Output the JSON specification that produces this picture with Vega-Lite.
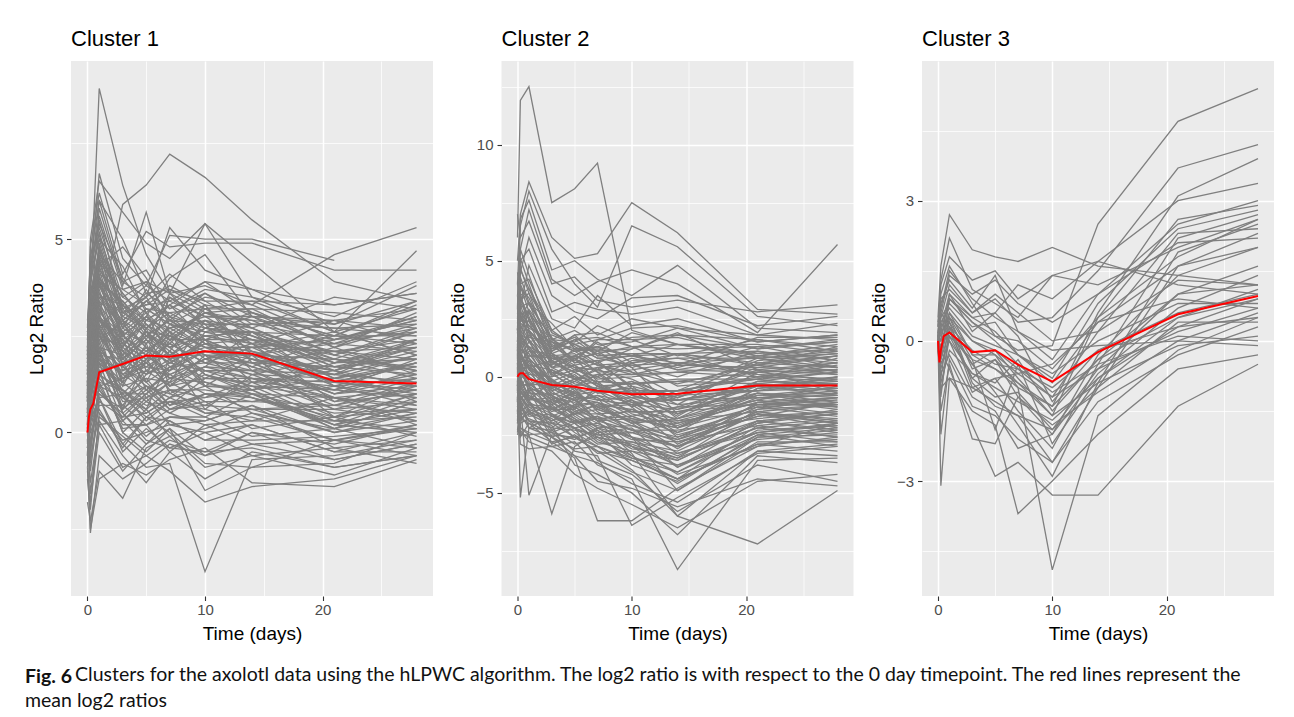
{
  "$schema": "https://vega.github.io/schema/vega-lite/v6.json",
  "autosize": {"type": "pad"},
  "padding": {"left": 25, "top": 28, "right": 0, "bottom": 0},
  "background": "#FFFFFF",
  "bounds": "flush",
  "title": {
    "text": "Clusters for the axolotl data using the hLPWC algorithm. The log2 ratio is with respect to the 0 day timepoint. The red lines represent the",
    "orient": "bottom",
    "anchor": "start",
    "frame": "group",
    "dx": 4,
    "dy": -45,
    "offset": 0,
    "font": "Lato",
    "fontSize": 19.5,
    "fontWeight": "normal",
    "color": "#111111"
  },
  "vconcat": [
    {
      "bounds": "flush",
      "spacing": 68.5,
      "title": {
        "text": "Fig. 6",
        "subtitle": "mean log2 ratios",
        "orient": "bottom",
        "anchor": "start",
        "frame": "group",
        "dx": -46,
        "offset": 24,
        "font": "Lato",
        "fontSize": 19.5,
        "fontWeight": "bold",
        "color": "#111111",
        "subtitleFont": "Lato",
        "subtitleFontSize": 19.5,
        "subtitleFontWeight": "normal",
        "subtitleColor": "#111111",
        "subtitlePadding": 5
      },
      "hconcat": [
        {
          "width": 362,
          "height": 535,
          "title": {"text": "Cluster 1", "offset": 10},
          "layer": [
            {
              "data": {"values": "g,t,v\n1,0,1\n1,0.25,3.5\n1,1,8.9\n1,3,6.4\n1,5,4.6\n1,7,3.6\n1,10,3.1\n1,14,2.6\n1,21,2.1\n1,28,2.2\n2,0,0.5\n2,0.25,1.2\n2,1,3\n2,3,5.9\n2,5,6.4\n2,7,7.2\n2,10,6.6\n2,14,5.5\n2,21,3.9\n2,28,3.4\n3,0,1.5\n3,0.25,4\n3,1,6.7\n3,3,4.5\n3,5,3.8\n3,7,5.1\n3,10,5\n3,14,5\n3,21,4.45\n4,0,0.8\n4,0.25,2.5\n4,1,4.2\n4,3,3.5\n4,5,3.9\n4,7,3.6\n4,10,3.8\n4,14,3.3\n4,21,4.6\n4,28,5.3\n5,0,1.2\n5,0.25,5\n5,1,6.5\n5,3,5.7\n5,5,4.9\n5,7,4.5\n5,10,5.4\n5,14,4.4\n5,21,2.6\n5,28,4.7\n6,0,2\n6,0.25,4.8\n6,1,6.2\n6,3,4.1\n6,5,5.2\n6,7,4.8\n6,10,4.9\n6,14,4.9\n6,21,4.2\n6,28,4.2\n7,0,0.5\n7,0.25,3\n7,1,5.8\n7,3,3.8\n7,5,5.7\n7,7,3.6\n7,10,5.4\n7,14,3.5\n7,21,3\n7,28,3.9\n8,0,1.8\n8,0.25,4.3\n8,1,5.5\n8,3,3.2\n8,5,3.5\n8,7,5.3\n8,10,4.2\n8,14,3.7\n8,21,3.3\n8,28,3.6\n9,0,0.2\n9,0.25,2\n9,1,4.5\n9,3,2.5\n9,5,3\n9,7,4\n9,10,4.6\n9,14,3\n9,21,2.8\n9,28,3.8\n10,0,2.5\n10,0.25,4.5\n10,1,6\n10,3,5\n10,5,3.6\n10,7,3.7\n10,10,3.4\n10,14,2.7\n10,21,3.5\n10,28,3.2\n11,0,1\n11,0.25,3.8\n11,1,5.2\n11,3,3\n11,5,2.7\n11,7,3.3\n11,10,3.9\n11,14,3.1\n11,21,2.5\n11,28,3.4\n12,0,0\n12,0.25,1.5\n12,1,4\n12,3,2.8\n12,5,3.4\n12,7,2.9\n12,10,3.6\n12,14,2.8\n12,21,2.4\n12,28,2.9\n13,0,1.6\n13,0.25,3\n13,1,4.8\n13,3,2.2\n13,5,3.2\n13,7,3.1\n13,10,3.2\n13,14,2.5\n13,21,1.9\n13,28,2.6\n14,0,0.4\n14,0.25,2.2\n14,1,3.5\n14,3,3.3\n14,5,2.6\n14,7,2.5\n14,10,3.1\n14,14,3.2\n14,21,2.2\n14,28,3.1\n15,0,2.2\n15,0.25,3.6\n15,1,4.4\n15,3,3.6\n15,5,2.9\n15,7,2.7\n15,10,2.9\n15,14,2.1\n15,21,1.6\n15,28,2.4\n16,0,0.9\n16,0.25,2.8\n16,1,3.8\n16,3,2.6\n16,5,2.3\n16,7,3\n16,10,2.7\n16,14,2.4\n16,21,2\n16,28,2.7\n17,0,-0.3\n17,0.25,1.8\n17,1,3.2\n17,3,2\n17,5,2.5\n17,7,2.2\n17,10,2.5\n17,14,2.6\n17,21,1.8\n17,28,2.2\n18,0,1.3\n18,0.25,2.4\n18,1,2.9\n18,3,2.4\n18,5,2.8\n18,7,2.4\n18,10,2.4\n18,14,1.9\n18,21,1.5\n18,28,2\n19,0,0.6\n19,0.25,1.9\n19,1,2.7\n19,3,1.8\n19,5,2.1\n19,7,2.6\n19,10,2.2\n19,14,2.2\n19,21,1.3\n19,28,1.8\n20,0,2.8\n20,0.25,3.2\n20,1,3.6\n20,3,2.9\n20,5,2.2\n20,7,1.9\n20,10,2.3\n20,14,2\n20,21,2.5\n20,28,2.5\n21,0,0.1\n21,0.25,1\n21,1,2.4\n21,3,2.3\n21,5,1.9\n21,7,2\n21,10,2\n21,14,1.7\n21,21,1.1\n21,28,1.5\n22,0,1.7\n22,0.25,2.6\n22,1,3.3\n22,3,1.6\n22,5,1.8\n22,7,2.3\n22,10,1.8\n22,14,1.5\n22,21,1.4\n22,28,1.7\n23,0,-0.6\n23,0.25,0.8\n23,1,2\n23,3,1.9\n23,5,2.4\n23,7,1.7\n23,10,2.1\n23,14,1.8\n23,21,1\n23,28,1.2\n24,0,0.9\n24,0.25,1.5\n24,1,2.2\n24,3,1.4\n24,5,1.6\n24,7,1.5\n24,10,1.9\n24,14,2.3\n24,21,0.8\n24,28,1\n25,0,2.4\n25,0.25,2\n25,1,2.6\n25,3,2.1\n25,5,1.5\n25,7,1.8\n25,10,1.6\n25,14,1.4\n25,21,1.2\n25,28,1.4\n26,0,0.3\n26,0.25,0.5\n26,1,1.8\n26,3,1.2\n26,5,1.4\n26,7,1.3\n26,10,1.7\n26,14,1.6\n26,21,0.6\n26,28,0.8\n27,0,1.1\n27,0.25,1.3\n27,1,2.5\n27,3,1.7\n27,5,1.2\n27,7,1\n27,10,1.5\n27,14,1.2\n27,21,0.9\n27,28,1.1\n28,0,-0.2\n28,0.25,0.2\n28,1,1.5\n28,3,1\n28,5,1\n28,7,1.4\n28,10,1.3\n28,14,1\n28,21,0.5\n28,28,0.6\n29,0,1.4\n29,0.25,1.8\n29,1,1.9\n29,3,0.8\n29,5,0.9\n29,7,1.1\n29,10,1.1\n29,14,0.9\n29,21,0.3\n29,28,0.4\n30,0,0.7\n30,0.25,0.6\n30,1,1.3\n30,3,1.1\n30,5,0.7\n30,7,0.8\n30,10,0.9\n30,14,1.1\n30,21,0.2\n30,28,0.9\n31,0,-0.8\n31,0.25,-0.3\n31,1,1\n31,3,0.6\n31,5,1.1\n31,7,0.6\n31,10,0.7\n31,14,0.6\n31,21,0\n31,28,0.3\n32,0,0\n32,0.25,-1\n32,1,0.8\n32,3,0.4\n32,5,0.5\n32,7,0.9\n32,10,0.5\n32,14,0.4\n32,21,-0.2\n32,28,0.1\n33,0,1\n33,0.25,-0.5\n33,1,1.2\n33,3,0.2\n33,5,0.2\n33,7,0.4\n33,10,0.3\n33,14,0.7\n33,21,-0.4\n33,28,-0.2\n34,0,-1.2\n34,0.25,-2\n34,1,0.5\n34,3,-0.2\n34,5,0\n34,7,0.2\n34,10,0\n34,14,0.2\n34,21,-0.5\n34,28,-0.5\n35,0,-0.5\n35,0.25,-2.6\n35,1,-0.6\n35,3,-1.2\n35,5,-0.8\n35,7,-0.3\n35,10,-0.6\n35,14,-0.3\n35,21,-0.7\n35,28,-0.3\n36,0,0.3\n36,0.25,-1.6\n36,1,0.3\n36,3,-0.6\n36,5,-1.3\n36,7,-0.5\n36,10,-1.2\n36,14,-0.5\n36,21,-0.9\n36,28,-0.6\n37,0,-1.8\n37,0.25,-2.3\n37,1,-1\n37,3,-1.7\n37,5,-0.4\n37,7,-0.1\n37,10,-0.9\n37,14,-0.6\n37,21,-1.1\n37,28,-0.4\n38,0,0.6\n38,0.25,-0.8\n38,1,0.9\n38,3,-0.3\n38,5,-0.9\n38,7,-0.8\n38,10,-3.6\n38,14,-0.7\n38,21,-0.6\n38,28,-0.2\n39,0,-0.2\n39,0.25,-1.3\n39,1,0.2\n39,3,-0.9\n39,5,-0.6\n39,7,-1\n39,10,-1.8\n39,14,-1.4\n39,21,-1.2\n39,28,-0.6\n40,0,1.2\n40,0.25,0.3\n40,1,1.6\n40,3,0\n40,5,-0.5\n40,7,0.1\n40,10,-1.5\n40,14,-0.9\n40,21,-0.8\n40,28,0\n41,0,0.5\n41,0.25,0.9\n41,1,2.1\n41,3,0.5\n41,5,-0.2\n41,7,-0.4\n41,10,-0.5\n41,14,0\n41,21,-0.3\n41,28,0.2\n42,0,2.1\n42,0.25,2.9\n42,1,4\n42,3,3.1\n42,5,3.3\n42,7,3.4\n42,10,3\n42,14,2.9\n42,21,2.7\n42,28,2.8\n43,0,1.9\n43,0.25,3.4\n43,1,4.6\n43,3,3.9\n43,5,4.2\n43,7,3.2\n43,10,3.6\n43,14,3\n43,21,2.3\n43,28,3\n44,0,0.8\n44,0.25,2.6\n44,1,3.9\n44,3,2.7\n44,5,3.7\n44,7,2.8\n44,10,2.6\n44,14,2.3\n44,21,2.9\n44,28,2.3\n45,0,1.5\n45,0.25,2.2\n45,1,3.1\n45,3,2.5\n45,5,2\n45,7,3.5\n45,10,2.8\n45,14,2.5\n45,21,1.7\n45,28,1.9\n46,0,2.6\n46,0.25,3\n46,1,2.8\n46,3,1.9\n46,5,2.6\n46,7,2.1\n46,10,3.3\n46,14,1.8\n46,21,2.1\n46,28,1.6\n47,0,0.2\n47,0.25,1.6\n47,1,2.6\n47,3,1.5\n47,5,1.7\n47,7,1.6\n47,10,2.4\n47,14,1.3\n47,21,1.6\n47,28,2.1\n48,0,1\n48,0.25,1.1\n48,1,1.7\n48,3,1.3\n48,5,2.7\n48,7,1.2\n48,10,1.4\n48,14,2\n48,21,0.4\n48,28,1.3\n49,0,-0.4\n49,0.25,0.4\n49,1,1.4\n49,3,2.6\n49,5,1.3\n49,7,0.7\n49,10,1\n49,14,0.8\n49,21,1.2\n49,28,0.7\n50,0,1.6\n50,0.25,2\n50,1,2.3\n50,3,0.9\n50,5,0.6\n50,7,1.9\n50,10,0.6\n50,14,1.5\n50,21,1.9\n50,28,1.6\n51,0,0.4\n51,0.25,1.4\n51,1,3\n51,3,2.2\n51,5,1.8\n51,7,2.6\n51,10,1.2\n51,14,0.5\n51,21,0.1\n51,28,0.5\n52,0,2.3\n52,0.25,3.9\n52,1,5\n52,3,4.3\n52,5,3.1\n52,7,2.5\n52,10,2.1\n52,14,2\n52,21,1.3\n52,28,1.8\n53,0,-1\n53,0.25,-1.8\n53,1,0\n53,3,-1\n53,5,-0.3\n53,7,0.3\n53,10,-0.2\n53,14,-0.2\n53,21,-0.1\n53,28,0.1\n54,0,0.9\n54,0.25,2.1\n54,1,4.3\n54,3,4.8\n54,5,4\n54,7,2.9\n54,10,2.3\n54,14,1.7\n54,21,1\n54,28,1.4\n55,0,1.3\n55,0.25,0.7\n55,1,1.1\n55,3,0.3\n55,5,0.8\n55,7,0.5\n55,10,0.2\n55,14,0.3\n55,21,0.9\n55,28,0.3\n56,0,-0.9\n56,0.25,-2.5\n56,1,-1.2\n56,3,-0.8\n56,5,-1.1\n56,7,-0.7\n56,10,-0.4\n56,14,-1.3\n56,21,-1.4\n56,28,-0.7\n57,0,0.1\n57,0.25,0\n57,1,0.6\n57,3,-0.4\n57,5,0.4\n57,7,0\n57,10,-0.8\n57,14,-0.9\n57,21,-0.2\n57,28,-0.4\n58,0,0.2\n58,0.25,-0.6\n58,1,0.4\n58,3,-0.1\n58,5,-0.6\n58,7,-0.2\n58,10,-0.5\n58,14,-0.4\n58,21,-0.9\n58,28,-0.6\n59,0,-0.5\n59,0.25,0.3\n59,1,0.9\n59,3,-0.5\n59,5,0.1\n59,7,-0.4\n59,10,0\n59,14,-0.6\n59,21,-0.4\n59,28,-0.8\n60,0,1.1\n60,0.25,0.4\n60,1,0.2\n60,3,0.3\n60,5,-0.3\n60,7,0.1\n60,10,-0.6\n60,14,0\n60,21,-0.7\n60,28,-0.3\n61,0,-0.3\n61,0.25,-0.5\n61,1,1.3\n61,3,0.1\n61,5,0.2\n61,7,-0.5\n61,10,0.2\n61,14,-0.3\n61,21,-0.2\n61,28,-0.6\n62,0,0.6\n62,0.25,0.9\n62,1,0.5\n62,3,-0.3\n62,5,0.4\n62,7,0.3\n62,10,-0.2\n62,14,0.2\n62,21,-0.5\n62,28,0\n63,0,-0.8\n63,0.25,0.1\n63,1,1\n63,3,0.5\n63,5,-0.1\n63,7,0.4\n63,10,0.4\n63,14,-0.1\n63,21,0.1\n63,28,-0.4\n64,0,1.5\n64,0.25,1.2\n64,1,1.6\n64,3,0\n64,5,0.6\n64,7,-0.1\n64,10,0.1\n64,14,0.5\n64,21,-0.2\n64,28,0.2\n65,0,0\n65,0.25,-0.2\n65,1,0.7\n65,3,0.7\n65,5,0.2\n65,7,0.6\n65,10,0.8\n65,14,0.1\n65,21,0.4\n65,28,-0.1\n66,0,0.9\n66,0.25,0.6\n66,1,1.8\n66,3,0.3\n66,5,0.9\n66,7,0.2\n66,10,0.3\n66,14,0.7\n66,21,0\n66,28,0.5\n67,0,-0.4\n67,0.25,1\n67,1,1.2\n67,3,0.9\n67,5,0.4\n67,7,0.8\n67,10,0.6\n67,14,0.3\n67,21,0.3\n67,28,0.1\n68,0,2\n68,0.25,1.6\n68,1,2.2\n68,3,0.5\n68,5,1\n68,7,0.5\n68,10,1\n68,14,0.9\n68,21,0.2\n68,28,0.6\n69,0,0.3\n69,0.25,0.5\n69,1,1.5\n69,3,1.1\n69,5,0.6\n69,7,1.1\n69,10,0.5\n69,14,0.6\n69,21,0.6\n69,28,0.3\n70,0,1.2\n70,0.25,1.8\n70,1,2.6\n70,3,0.6\n70,5,1.2\n70,7,0.9\n70,10,1.2\n70,14,1.1\n70,21,0.1\n70,28,0.8\n71,0,-0.1\n71,0.25,1.1\n71,1,1.9\n71,3,1.3\n71,5,0.8\n71,7,1.3\n71,10,0.8\n71,14,0.8\n71,21,0.7\n71,28,0.5\n72,0,1.8\n72,0.25,2.3\n72,1,2.4\n72,3,0.9\n72,5,1.4\n72,7,0.7\n72,10,1.4\n72,14,1.3\n72,21,0.4\n72,28,1\n73,0,0.5\n73,0.25,0.8\n73,1,2\n73,3,1.5\n73,5,1.1\n73,7,1.5\n73,10,1\n73,14,1\n73,21,0.9\n73,28,0.7\n74,0,2.3\n74,0.25,1.9\n74,1,3\n74,3,1\n74,5,1.6\n74,7,1.2\n74,10,1.7\n74,14,1.4\n74,21,0.6\n74,28,1.2\n75,0,0.8\n75,0.25,2.6\n75,1,2.1\n75,3,1.7\n75,5,1.3\n75,7,1.7\n75,10,1.2\n75,14,1.2\n75,21,1.1\n75,28,0.9\n76,0,1.4\n76,0.25,1.2\n76,1,2.8\n76,3,1.3\n76,5,1.8\n76,7,1.4\n76,10,1.9\n76,14,1.6\n76,21,0.8\n76,28,1.4\n77,0,0.1\n77,0.25,2.2\n77,1,3.4\n77,3,1.9\n77,5,1.5\n77,7,1.9\n77,10,1.4\n77,14,1.4\n77,21,1.3\n77,28,1.1\n78,0,2.6\n78,0.25,2.9\n78,1,2.5\n78,3,1.5\n78,5,2\n78,7,1.6\n78,10,2.1\n78,14,1.9\n78,21,1\n78,28,1.6\n79,0,1\n79,0.25,1.7\n79,1,3.2\n79,3,2.1\n79,5,1.7\n79,7,2.1\n79,10,1.6\n79,14,1.6\n79,21,1.5\n79,28,1.3\n80,0,1.9\n80,0.25,3.3\n80,1,3.7\n80,3,1.7\n80,5,2.2\n80,7,1.8\n80,10,2.3\n80,14,2.1\n80,21,1.2\n80,28,1.8\n81,0,0.4\n81,0.25,2\n81,1,2.9\n81,3,2.3\n81,5,1.9\n81,7,2.3\n81,10,1.8\n81,14,1.8\n81,21,1.7\n81,28,1.5\n82,0,2.2\n82,0.25,2.7\n82,1,4.1\n82,3,1.9\n82,5,2.4\n82,7,2\n82,10,2.5\n82,14,2.3\n82,21,1.4\n82,28,2\n83,0,1.3\n83,0.25,3.5\n83,1,3.3\n83,3,2.5\n83,5,2.1\n83,7,2.5\n83,10,2\n83,14,2\n83,21,1.9\n83,28,1.7\n84,0,0.7\n84,0.25,2.4\n84,1,3.9\n84,3,2.1\n84,5,2.6\n84,7,2.2\n84,10,2.7\n84,14,2.5\n84,21,1.6\n84,28,2.2\n85,0,2.5\n85,0.25,3\n85,1,4.3\n85,3,2.7\n85,5,2.3\n85,7,2.7\n85,10,2.2\n85,14,2.2\n85,21,2.1\n85,28,1.9\n86,0,1.6\n86,0.25,3.8\n86,1,3.6\n86,3,2.3\n86,5,2.8\n86,7,2.4\n86,10,2.9\n86,14,2.7\n86,21,1.8\n86,28,2.4\n87,0,0.9\n87,0.25,2.5\n87,1,4.6\n87,3,2.9\n87,5,2.5\n87,7,2.9\n87,10,2.4\n87,14,2.4\n87,21,2.3\n87,28,2.1\n88,0,2\n88,0.25,3.4\n88,1,3.8\n88,3,2.5\n88,5,3\n88,7,2.6\n88,10,3.1\n88,14,2.9\n88,21,2\n88,28,2.6\n89,0,1.1\n89,0.25,4.1\n89,1,5\n89,3,3.1\n89,5,2.7\n89,7,3.1\n89,10,2.6\n89,14,2.6\n89,21,2.5\n89,28,2.3\n90,0,2.4\n90,0.25,3.1\n90,1,4.4\n90,3,2.7\n90,5,3.2\n90,7,2.8\n90,10,3.3\n90,14,3.1\n90,21,2.2\n90,28,2.8\n91,0,1.5\n91,0.25,3.7\n91,1,4\n91,3,3.3\n91,5,2.9\n91,7,3.3\n91,10,2.8\n91,14,2.8\n91,21,2.7\n91,28,2.5\n92,0,0.6\n92,0.25,2.8\n92,1,4.9\n92,3,2.9\n92,5,3.4\n92,7,3\n92,10,3.5\n92,14,3.3\n92,21,2.4\n92,28,3\n93,0,2.1\n93,0.25,4.4\n93,1,5.3\n93,3,3.5\n93,5,3.1\n93,7,3.5\n93,10,3\n93,14,3\n93,21,2.9\n93,28,2.7\n94,0,1.7\n94,0.25,3.6\n94,1,4.7\n94,3,3.1\n94,5,3.6\n94,7,3.2\n94,10,3.7\n94,14,3.5\n94,21,2.6\n94,28,3.2\n95,0,0.8\n95,0.25,4\n95,1,5.6\n95,3,3.7\n95,5,3.3\n95,7,3.7\n95,10,3.2\n95,14,3.2\n95,21,3.1\n95,28,2.9\n96,0,2.7\n96,0.25,4.6\n96,1,5.1\n96,3,3.3\n96,5,3.8\n96,7,3.4\n96,10,3.9\n96,14,3.7\n96,21,2.8\n96,28,3.4\n97,0,1.2\n97,0.25,3.9\n97,1,6\n97,3,3.9\n97,5,3.5\n97,7,4.1\n97,10,3.4\n97,14,3.4\n97,21,3.3\n97,28,3.6\n98,0,0.5\n98,0.25,1.9\n98,1,3.4\n98,3,2.8\n98,5,2.2\n98,7,1.4\n98,10,1.7\n98,14,2.6\n98,21,1.2\n98,28,0.9\n99,0,1.9\n99,0.25,2.4\n99,1,1.4\n99,3,0.7\n99,5,1.5\n99,7,2.5\n99,10,2\n99,14,1.1\n99,21,1.8\n99,28,2.3\n100,0,-0.6\n100,0.25,0.9\n100,1,2.7\n100,3,3.4\n100,5,2.6\n100,7,2\n100,10,1.3\n100,14,0.9\n100,21,0.4\n100,28,0.6\n101,0,2.2\n101,0.25,3.6\n101,1,4.2\n101,3,2.4\n101,5,1.1\n101,7,1.6\n101,10,2.9\n101,14,2.4\n101,21,1.4\n101,28,1.2\n102,0,0.8\n102,0.25,1.2\n102,1,2\n102,3,0.6\n102,5,1.9\n102,7,2.8\n102,10,2.2\n102,14,1.7\n102,21,2.4\n102,28,2.9\n103,0,1.4\n103,0.25,2.9\n103,1,3.8\n103,3,3\n103,5,3.5\n103,7,2.6\n103,10,1.9\n103,14,1.5\n103,21,0.7\n103,28,1.1\n104,0,-0.2\n104,0.25,0.6\n104,1,1.6\n104,3,1.8\n104,5,0.9\n104,7,1.3\n104,10,2.6\n104,14,3\n104,21,2\n104,28,1.6\n105,0,2.6\n105,0.25,3.2\n105,1,2.9\n105,3,2\n105,5,2.9\n105,7,3.3\n105,10,2.4\n105,14,2.8\n105,21,2.9\n105,28,3.2\n106,0,0.3\n106,0.25,2.3\n106,1,3.1\n106,3,1.2\n106,5,2.3\n106,7,1\n106,10,0.7\n106,14,1.3\n106,21,1.1\n106,28,1.9\n107,0,1.1\n107,0.25,1.6\n107,1,2.3\n107,3,2.9\n107,5,3.4\n107,7,3.8\n107,10,3.3\n107,14,2\n107,21,1.6\n107,28,0.8\n108,0,1.7\n108,0.25,3\n108,1,4.5\n108,3,3.6\n108,5,2.8\n108,7,2.2\n108,10,1.5\n108,14,1\n108,21,0.2\n108,28,0\n109,0,0\n109,0.25,0.8\n109,1,1.1\n109,3,0.4\n109,5,1\n109,7,1.7\n109,10,1.8\n109,14,2.2\n109,21,2.6\n109,28,2\n110,0,2\n110,0.25,2.8\n110,1,3.5\n110,3,2.5\n110,5,2\n110,7,1.5\n110,10,1.9\n110,14,2.1\n110,21,1.5\n110,28,2.4\n111,0,0.6\n111,0.25,1.5\n111,1,2.9\n111,3,2.2\n111,5,3\n111,7,2.4\n111,10,3.1\n111,14,2.7\n111,21,1.9\n111,28,1.4\n112,0,1.3\n112,0.25,2.2\n112,1,1.8\n112,3,1.1\n112,5,0.5\n112,7,0.9\n112,10,1.6\n112,14,1.2\n112,21,0.3\n112,28,1\n113,0,-0.9\n113,0.25,-0.2\n113,1,1.2\n113,3,1.4\n113,5,1.9\n113,7,1.1\n113,10,0.9\n113,14,1.4\n113,21,0.9\n113,28,0.2\n114,0,2.4\n114,0.25,4.2\n114,1,5.4\n114,3,4\n114,5,3.2\n114,7,2.8\n114,10,2.5\n114,14,2.2\n114,21,2.4\n114,28,2.6\n115,0,0.9\n115,0.25,2\n115,1,2.4\n115,3,2.9\n115,5,1.6\n115,7,2.1\n115,10,1.2\n115,14,1.9\n115,21,1.3\n115,28,1\n116,0,1.5\n116,0.25,2.7\n116,1,3.3\n116,3,1.8\n116,5,2.5\n116,7,2.9\n116,10,2.8\n116,14,1.6\n116,21,2.2\n116,28,1.5\n117,0,0.2\n117,0.25,1.3\n117,1,2.1\n117,3,0.9\n117,5,1.2\n117,7,0.6\n117,10,1\n117,14,0.6\n117,21,0.7\n117,28,1.3\n118,0,1.8\n118,0.25,3.5\n118,1,4.8\n118,3,3.2\n118,5,2.4\n118,7,3.6\n118,10,2.7\n118,14,2.6\n118,21,1.7\n118,28,2.2\n119,0,0.4\n119,0.25,0.9\n119,1,1.9\n119,3,1.6\n119,5,2.2\n119,7,1.8\n119,10,2.4\n119,14,1.9\n119,21,1.6\n119,28,1.2\n120,0,2.9\n120,0.25,3.7\n120,1,3.9\n120,3,3.4\n120,5,2.7\n120,7,2.3\n120,10,3.2\n120,14,3.4\n120,21,2.6\n120,28,2\n121,0,-0.4\n121,0.25,0.3\n121,1,0.9\n121,3,1\n121,5,0.3\n121,7,0.8\n121,10,0.4\n121,14,1\n121,21,0.1\n121,28,0.8\n122,0,1\n122,0.25,2.5\n122,1,3.6\n122,3,2.6\n122,5,3.1\n122,7,1.9\n122,10,2.2\n122,14,2\n122,21,2.3\n122,28,2.7\n123,0,2.1\n123,0.25,3.3\n123,1,4.1\n123,3,3.7\n123,5,3.9\n123,7,3\n123,10,2.3\n123,14,2.4\n123,21,1.8\n123,28,1.9\n124,0,0.7\n124,0.25,1\n124,1,2.2\n124,3,2\n124,5,1.3\n124,7,2.4\n124,10,1.5\n124,14,1.1\n124,21,1.4\n124,28,1.8\n125,0,1.6\n125,0.25,2.1\n125,1,2.7\n125,3,1.4\n125,5,1.8\n125,7,1.2\n125,10,2\n125,14,1.8\n125,21,0.9\n125,28,0.6\n126,0,0.1\n126,0.25,1.7\n126,1,3\n126,3,2.4\n126,5,2\n126,7,2.7\n126,10,3\n126,14,2.3\n126,21,2.1\n126,28,2.4\n127,0,1.2\n127,0.25,2.6\n127,1,3.9\n127,3,3.3\n127,5,2.5\n127,7,2\n127,10,2.7\n127,14,3.1\n127,21,2.5\n127,28,3.3", "format": {"type": "csv", "parse": {"g": "number", "t": "number", "v": "number"}}},
              "mark": {"type": "line", "color": "#7F7F7F", "strokeWidth": 1.3},
              "encoding": {
                "x": {"field": "t", "type": "quantitative", "title": "Time (days)",
                  "scale": {"domain": [-1.4, 29.4], "nice": false, "zero": false},
                  "axis": {"values": [0, 5, 10, 15, 20, 25],
                    "labelExpr": "datum.value % 10 === 0 ? datum.label : ''",
                    "gridWidth": {"condition": {"test": "datum.value % 10 === 0", "value": 1.5}, "value": 0.75},
                    "tickOpacity": {"condition": {"test": "datum.value % 10 === 0", "value": 1}, "value": 0}}},
                "y": {"field": "v", "type": "quantitative", "title": "Log2 Ratio",
                  "scale": {"domain": [-4.23, 9.61], "nice": false, "zero": false},
                  "axis": {"values": [-2.5, 0, 2.5, 5, 7.5],
                    "labelExpr": "datum.value % 5 === 0 ? datum.label : ''",
                    "gridWidth": {"condition": {"test": "datum.value % 5 === 0", "value": 1.5}, "value": 0.75},
                    "tickOpacity": {"condition": {"test": "datum.value % 5 === 0", "value": 1}, "value": 0}}},
                "detail": {"field": "g", "type": "nominal"}
              }
            },
            {
              "data": {"values": "t,v\n0,0\n0.125,0.4\n0.25,0.6\n0.5,0.75\n1,1.56\n3,1.77\n5,1.99\n7,1.96\n10,2.1\n14,2.04\n21,1.33\n28,1.27", "format": {"type": "csv", "parse": {"t": "number", "v": "number"}}},
              "mark": {"type": "line", "color": "#FF0000", "strokeWidth": 2},
              "encoding": {
                "x": {"field": "t", "type": "quantitative", "title": "Time (days)"},
                "y": {"field": "v", "type": "quantitative", "title": "Log2 Ratio"}
              }
            }
          ]
        },
        {
          "width": 352,
          "height": 535,
          "title": {"text": "Cluster 2", "offset": 10},
          "layer": [
            {
              "data": {"values": "g,t,v\n1,0,6\n1,0.25,11.9\n1,1,12.5\n1,3,7.5\n1,5,8.1\n1,7,9.2\n1,10,2\n1,14,1.4\n1,21,0.8\n1,28,1\n2,0,4\n2,0.25,7\n2,1,8.4\n2,3,6\n2,5,5.1\n2,7,5.3\n2,10,7.5\n2,14,6.2\n2,21,2.9\n2,28,2.7\n3,0,3\n3,0.25,6.5\n3,1,8\n3,3,5.5\n3,5,4\n3,7,3\n3,10,6.5\n3,14,5.6\n3,21,2.6\n3,28,2.2\n4,0,5\n4,0.25,6.8\n4,1,7.6\n4,3,4.6\n4,5,5\n4,7,4.2\n4,10,3.5\n4,14,4.8\n4,21,2.1\n4,28,1.9\n5,0,2\n5,0.25,5.5\n5,1,7.2\n5,3,4.2\n5,5,3.5\n5,7,4.1\n5,10,4.6\n5,14,4\n5,21,1.9\n5,28,5.7\n6,0,7\n6,0.25,6\n6,1,6.7\n6,3,4\n6,5,4.3\n6,7,3.3\n6,10,3\n6,14,3.3\n6,21,2.8\n6,28,3.1\n7,0,1\n7,0.25,4.5\n7,1,6\n7,3,3.5\n7,5,2.8\n7,7,2.5\n7,10,3.4\n7,14,3.5\n7,21,2.2\n7,28,2.6\n8,0,3.5\n8,0.25,5\n8,1,5.5\n8,3,2.8\n8,5,3.2\n8,7,2.9\n8,10,2.7\n8,14,3\n8,21,1.8\n8,28,2.3\n9,0,-0.5\n9,0.25,3\n9,1,4.8\n9,3,2.5\n9,5,2.1\n9,7,3.5\n9,10,2.2\n9,14,2.5\n9,21,1.5\n9,28,1.8\n10,0,2.5\n10,0.25,4\n10,1,4.2\n10,3,2\n10,5,2.6\n10,7,1.8\n10,10,2.5\n10,14,2.1\n10,21,1.2\n10,28,1.6\n11,0,1.5\n11,0.25,3.5\n11,1,3.8\n11,3,1.6\n11,5,1.5\n11,7,2.2\n11,10,1.6\n11,14,1.7\n11,21,0.9\n11,28,1.4\n12,0,0.5\n12,0.25,2.5\n12,1,3.2\n12,3,2.3\n12,5,1.2\n12,7,1.1\n12,10,1.9\n12,14,1.4\n12,21,1\n12,28,1.2\n13,0,-1\n13,0.25,2\n13,1,2.8\n13,3,1.2\n13,5,1.8\n13,7,0.9\n13,10,1\n13,14,1\n13,21,0.5\n13,28,0.9\n14,0,3\n14,0.25,1.5\n14,1,2.5\n14,3,0.8\n14,5,0.7\n14,7,1.5\n14,10,0.6\n14,14,0.8\n14,21,0.8\n14,28,1.1\n15,0,0\n15,0.25,1\n15,1,2\n15,3,1\n15,5,0.4\n15,7,0.3\n15,10,0.8\n15,14,0.3\n15,21,0.2\n15,28,0.6\n16,0,1.8\n16,0.25,2.2\n16,1,1.6\n16,3,0.4\n16,5,0.9\n16,7,0.5\n16,10,0.1\n16,14,0.5\n16,21,0.4\n16,28,0.3\n17,0,-1.5\n17,0.25,0.5\n17,1,1.3\n17,3,0.2\n17,5,0\n17,7,-0.2\n17,10,-0.3\n17,14,-0.1\n17,21,-0.1\n17,28,0.2\n18,0,0.8\n18,0.25,1.2\n18,1,1\n18,3,-0.3\n18,5,-0.4\n18,7,0.1\n18,10,-0.7\n18,14,-0.6\n18,21,0\n18,28,-0.2\n19,0,-0.3\n19,0.25,0\n19,1,0.7\n19,3,-0.6\n19,5,-0.2\n19,7,-0.6\n19,10,-0.5\n19,14,-1\n19,21,-0.4\n19,28,-0.1\n20,0,2.2\n20,0.25,0.8\n20,1,0.4\n20,3,-0.1\n20,5,-0.8\n20,7,-1\n20,10,-1.2\n20,14,-0.8\n20,21,-0.6\n20,28,-0.5\n21,0,-2\n21,0.25,-0.5\n21,1,0.2\n21,3,-0.9\n21,5,-1.1\n21,7,-0.8\n21,10,-1.5\n21,14,-1.5\n21,21,-0.8\n21,28,-0.7\n22,0,0.3\n22,0.25,0.3\n22,1,-0.2\n22,3,-1.2\n22,5,-0.6\n22,7,-1.4\n22,10,-1\n22,14,-1.9\n22,21,-1\n22,28,-0.4\n23,0,-0.8\n23,0.25,-1\n23,1,-0.5\n23,3,-0.8\n23,5,-1.5\n23,7,-1.2\n23,10,-2\n23,14,-1.3\n23,21,-1.2\n23,28,-1\n24,0,1.2\n24,0.25,-0.2\n24,1,-0.8\n24,3,-1.5\n24,5,-1.2\n24,7,-1.8\n24,10,-1.7\n24,14,-2.4\n24,21,-1.4\n24,28,-0.9\n25,0,-1.2\n25,0.25,-1.5\n25,1,-1.2\n25,3,-1.3\n25,5,-1.9\n25,7,-2.1\n25,10,-2.4\n25,14,-2\n25,21,-1.1\n25,28,-1.3\n26,0,0.6\n26,0.25,-0.8\n26,1,-1.5\n26,3,-1.9\n26,5,-1.6\n26,7,-1.6\n26,10,-2.1\n26,14,-2.8\n26,21,-1.7\n26,28,-1.5\n27,0,-2.5\n27,0.25,-2\n27,1,-1.8\n27,3,-2.2\n27,5,-2.3\n27,7,-2.5\n27,10,-2.8\n27,14,-3.2\n27,21,-1.6\n27,28,-1.8\n28,0,-0.2\n28,0.25,-5.2\n28,1,-2.2\n28,3,-1.7\n28,5,-2\n28,7,-2.8\n28,10,-3.2\n28,14,-3.6\n28,21,-2\n28,28,-1.6\n29,0,0.9\n29,0.25,-1.2\n29,1,-5.1\n29,3,-2.5\n29,5,-2.6\n29,7,-3\n29,10,-3.5\n29,14,-4.1\n29,21,-2.3\n29,28,-2.1\n30,0,-1.8\n30,0.25,-2.5\n30,1,-2.5\n30,3,-5.9\n30,5,-3\n30,7,-2.4\n30,10,-3.8\n30,14,-4.5\n30,21,-2.6\n30,28,-2.3\n31,0,-0.6\n31,0.25,-2.2\n31,1,-2.4\n31,3,-2.8\n31,5,-3.5\n31,7,-6.2\n31,10,-6.2\n31,14,-4.8\n31,21,-3\n31,28,-2.6\n32,0,0.2\n32,0.25,-1.8\n32,1,-2\n32,3,-2.4\n32,5,-3.2\n32,7,-3.4\n32,10,-6.4\n32,14,-5.2\n32,21,-3.3\n32,28,-3\n33,0,-1.4\n33,0.25,-2.4\n33,1,-2.6\n33,3,-3\n33,5,-2.8\n33,7,-3.8\n33,10,-4.4\n33,14,-8.3\n33,21,-3.6\n33,28,-3.5\n34,0,0.4\n34,0.25,-1\n34,1,-1.6\n34,3,-2.1\n34,5,-3.8\n34,7,-4.2\n34,10,-5\n34,14,-6.8\n34,21,-3.4\n34,28,-3.7\n35,0,-2.2\n35,0.25,-2.3\n35,1,-2.8\n35,3,-3.2\n35,5,-4.2\n35,7,-4.8\n35,10,-5.5\n35,14,-6.5\n35,21,-4.5\n35,28,-4.2\n36,0,1\n36,0.25,-0.6\n36,1,-1.1\n36,3,-1.6\n36,5,-2.4\n36,7,-3\n36,10,-4\n36,14,-6\n36,21,-7.2\n36,28,-4.9\n37,0,-0.9\n37,0.25,-1.6\n37,1,-2.2\n37,3,-2.6\n37,5,-3.4\n37,7,-4.5\n37,10,-4.8\n37,14,-5.6\n37,21,-4.4\n37,28,-4.7\n38,0,0\n38,0.25,-1.3\n38,1,-1.9\n38,3,-2\n38,5,-2.2\n38,7,-3.6\n38,10,-4.2\n38,14,-5.8\n38,21,-3.8\n38,28,-4.5\n39,0,-1.6\n39,0.25,-1.9\n39,1,-1.4\n39,3,-1.8\n39,5,-2.6\n39,7,-3.2\n39,10,-3.6\n39,14,-4.4\n39,21,-2.9\n39,28,-3.2\n40,0,0.7\n40,0.25,0\n40,1,-0.9\n40,3,-1.1\n40,5,-1.8\n40,7,-2.6\n40,10,-3\n40,14,-3.8\n40,21,-2.4\n40,28,-2\n41,0,-0.4\n41,0.25,-0.9\n41,1,-1.3\n41,3,-1.4\n41,5,-1.4\n41,7,-2.2\n41,10,-2.6\n41,14,-3.4\n41,21,-1.9\n41,28,-2.4\n42,0,1.6\n42,0.25,0.6\n42,1,0\n42,3,-0.7\n42,5,-1\n42,7,-1.9\n42,10,-2.3\n42,14,-3\n42,21,-1.5\n42,28,-1.9\n43,0,-1.1\n43,0.25,1.4\n43,1,1.8\n43,3,0.6\n43,5,0.2\n43,7,-0.4\n43,10,-1\n43,14,-2.6\n43,21,-1.2\n43,28,-1.2\n44,0,2.8\n44,0.25,2.6\n44,1,2.2\n44,3,1.4\n44,5,0.6\n44,7,0.7\n44,10,-0.5\n44,14,-2.2\n44,21,-0.9\n44,28,-0.8\n45,0,0.1\n45,0.25,0.9\n45,1,1.5\n45,3,1.8\n45,5,1.4\n45,7,1\n45,10,0.4\n45,14,-1.6\n45,21,-0.3\n45,28,-0.6\n46,0,4.5\n46,0.25,3.8\n46,1,3.4\n46,3,1.1\n46,5,1.6\n46,7,1.7\n46,10,1.3\n46,14,1.2\n46,21,1.3\n46,28,0.7\n47,0,-0.7\n47,0.25,0.2\n47,1,0.1\n47,3,0\n47,5,0.3\n47,7,0.6\n47,10,1.2\n47,14,1.9\n47,21,0.3\n47,28,0.1\n48,0,1.3\n48,0.25,-0.3\n48,1,-0.4\n48,3,0.3\n48,5,-0.3\n48,7,-0.5\n48,10,-0.2\n48,14,-1.2\n48,21,0.6\n48,28,0.4\n49,0,-2.3\n49,0.25,-1.4\n49,1,-0.6\n49,3,-0.4\n49,5,-0.9\n49,7,-1.1\n49,10,-1.8\n49,14,-2.2\n49,21,-0.5\n49,28,0\n50,0,0.5\n50,0.25,0.4\n50,1,0.9\n50,3,0.9\n50,5,1\n50,7,0.2\n50,10,-0.8\n50,14,-1.4\n50,21,-0.2\n50,28,-0.3\n51,0,2\n51,0.25,1.8\n51,1,1.2\n51,3,-0.2\n51,5,-0.5\n51,7,-0.9\n51,10,-2.6\n51,14,-4.9\n51,21,-2.8\n51,28,-2.8\n52,0,-1.3\n52,0.25,-0.4\n52,1,-0.3\n52,3,-1\n52,5,-1.3\n52,7,-1.9\n52,10,-3.3\n52,14,-6\n52,21,-3.2\n52,28,-3.4\n53,0,0.9\n53,0.25,0.5\n53,1,0.5\n53,3,-0.5\n53,5,-0.1\n53,7,-0.3\n53,10,-1.3\n53,14,-2.9\n53,21,-1.3\n53,28,-1.1\n54,0,-0.1\n54,0.25,-0.7\n54,1,-1\n54,3,-0.2\n54,5,-0.7\n54,7,-1.3\n54,10,-2\n54,14,-1.8\n54,21,-0.7\n54,28,-0.9\n55,0,1.9\n55,0.25,2.4\n55,1,2.9\n55,3,1.5\n55,5,1.1\n55,7,1.2\n55,10,0.9\n55,14,0.6\n55,21,0.1\n55,28,-0.1\n56,0,-1.2\n56,0.25,-1.5\n56,1,-1.9\n56,3,-2.6\n56,5,-3.1\n56,7,-3\n56,10,-3.6\n56,14,-4.4\n56,21,-2.9\n56,28,-2.7\n57,0,0.5\n57,0.25,-0.9\n57,1,-1.4\n57,3,-2.9\n57,5,-2.5\n57,7,-3.3\n57,10,-3.2\n57,14,-4.1\n57,21,-2.5\n57,28,-3\n58,0,-2\n58,0.25,-1\n58,1,-2.2\n58,3,-2.3\n58,5,-2.9\n58,7,-2.6\n58,10,-3.5\n58,14,-3.8\n58,21,-2.7\n58,28,-2.4\n59,0,1.4\n59,0.25,-0.3\n59,1,-1\n59,3,-2.6\n59,5,-2.2\n59,7,-2.9\n59,10,-2.8\n59,14,-3.5\n59,21,-2.2\n59,28,-2.6\n60,0,-0.8\n60,0.25,-1.6\n60,1,-1.5\n60,3,-2\n60,5,-2.6\n60,7,-2.3\n60,10,-3.1\n60,14,-3.3\n60,21,-2.4\n60,28,-2.1\n61,0,0\n61,0.25,0.4\n61,1,-0.6\n61,3,-2.3\n61,5,-1.9\n61,7,-2.5\n61,10,-2.4\n61,14,-3\n61,21,-1.9\n61,28,-2.3\n62,0,2.1\n62,0.25,-0.6\n62,1,-1.2\n62,3,-1.7\n62,5,-2.2\n62,7,-2\n62,10,-2.7\n62,14,-2.8\n62,21,-2.1\n62,28,-1.8\n63,0,-1.5\n63,0.25,0.2\n63,1,-0.4\n63,3,-2\n63,5,-1.6\n63,7,-2.2\n63,10,-2.1\n63,14,-2.6\n63,21,-1.6\n63,28,-2\n64,0,0.8\n64,0.25,-0.2\n64,1,-0.8\n64,3,-1.4\n64,5,-1.9\n64,7,-1.7\n64,10,-2.3\n64,14,-2.3\n64,21,-1.8\n64,28,-1.5\n65,0,-0.4\n65,0.25,1\n65,1,0\n65,3,-1.7\n65,5,-1.3\n65,7,-1.9\n65,10,-1.8\n65,14,-2.2\n65,21,-1.3\n65,28,-1.7\n66,0,1.7\n66,0.25,0.3\n66,1,-0.4\n66,3,-1.1\n66,5,-1.6\n66,7,-1.4\n66,10,-1.9\n66,14,-1.9\n66,21,-1.5\n66,28,-1.2\n67,0,-1.9\n67,0.25,1.5\n67,1,0.4\n67,3,-1.4\n67,5,-1\n67,7,-1.6\n67,10,-1.5\n67,14,-1.8\n67,21,-1\n67,28,-1.4\n68,0,0.3\n68,0.25,0.6\n68,1,0\n68,3,-0.8\n68,5,-1.3\n68,7,-1.1\n68,10,-1.5\n68,14,-1.5\n68,21,-1.2\n68,28,-0.9\n69,0,2.6\n69,0.25,1.9\n69,1,0.8\n69,3,-1.1\n69,5,-0.7\n69,7,-1.3\n69,10,-1.2\n69,14,-1.4\n69,21,-0.7\n69,28,-1.1\n70,0,-0.9\n70,0.25,0.9\n70,1,0.4\n70,3,-0.5\n70,5,-1\n70,7,-0.8\n70,10,-1.1\n70,14,-1\n70,21,-0.9\n70,28,-0.6\n71,0,1.2\n71,0.25,2.3\n71,1,1.2\n71,3,-0.8\n71,5,-0.4\n71,7,-1\n71,10,-0.9\n71,14,-1\n71,21,-0.4\n71,28,-0.8\n72,0,-0.2\n72,0.25,1.2\n72,1,0.8\n72,3,-0.2\n72,5,-0.7\n72,7,-0.5\n72,10,-0.7\n72,14,-0.6\n72,21,-0.6\n72,28,-0.3\n73,0,0.9\n73,0.25,2.7\n73,1,1.6\n73,3,-0.5\n73,5,-0.1\n73,7,-0.7\n73,10,-0.6\n73,14,-0.6\n73,21,-0.1\n73,28,-0.5\n74,0,-1.6\n74,0.25,1.5\n74,1,1.2\n74,3,0.1\n74,5,-0.4\n74,7,-0.2\n74,10,-0.3\n74,14,-0.2\n74,21,-0.3\n74,28,0\n75,0,1.9\n75,0.25,3.1\n75,1,2\n75,3,-0.2\n75,5,0.2\n75,7,-0.4\n75,10,-0.3\n75,14,-0.2\n75,21,0.2\n75,28,-0.2\n76,0,0.4\n76,0.25,1.8\n76,1,1.6\n76,3,0.4\n76,5,-0.1\n76,7,0.1\n76,10,0.1\n76,14,0.2\n76,21,0\n76,28,0.3\n77,0,-0.6\n77,0.25,3.5\n77,1,2.4\n77,3,0.1\n77,5,0.5\n77,7,-0.1\n77,10,0\n77,14,0.2\n77,21,0.5\n77,28,0.1\n78,0,2.4\n78,0.25,2.1\n78,1,2\n78,3,0.7\n78,5,0.2\n78,7,0.4\n78,10,0.5\n78,14,0.6\n78,21,0.3\n78,28,0.6\n79,0,0.7\n79,0.25,3.9\n79,1,2.8\n79,3,0.4\n79,5,0.8\n79,7,0.2\n79,10,0.3\n79,14,0.6\n79,21,0.8\n79,28,0.4\n80,0,-1.1\n80,0.25,2.4\n80,1,2.4\n80,3,1\n80,5,0.5\n80,7,0.7\n80,10,0.9\n80,14,1\n80,21,0.6\n80,28,0.9\n81,0,1.5\n81,0.25,4.3\n81,1,3.2\n81,3,0.7\n81,5,1.1\n81,7,0.5\n81,10,0.6\n81,14,1\n81,21,1.1\n81,28,0.7\n82,0,3.2\n82,0.25,2.7\n82,1,2.8\n82,3,1.3\n82,5,0.8\n82,7,1\n82,10,1.3\n82,14,1.4\n82,21,0.9\n82,28,1.2\n83,0,0.2\n83,0.25,4.7\n83,1,3.6\n83,3,1\n83,5,1.4\n83,7,0.8\n83,10,0.9\n83,14,1.4\n83,21,1.4\n83,28,1\n84,0,2\n84,0.25,3\n84,1,3.2\n84,3,1.6\n84,5,1.1\n84,7,1.3\n84,10,1.7\n84,14,1.8\n84,21,1.2\n84,28,1.5\n85,0,-0.4\n85,0.25,5.1\n85,1,4\n85,3,1.3\n85,5,1.7\n85,7,1.1\n85,10,1.2\n85,14,1.8\n85,21,1.6\n85,28,1.3\n86,0,1.1\n86,0.25,3.3\n86,1,3.6\n86,3,1.9\n86,5,1.4\n86,7,1.6\n86,10,2.1\n86,14,2.2\n86,21,1.5\n86,28,1.8\n87,0,2.9\n87,0.25,5.5\n87,1,4.4\n87,3,1.6\n87,5,2\n87,7,1.4\n87,10,1.5\n87,14,2.1\n87,21,1.8\n87,28,1.6\n88,0,-0.5\n88,0.25,-2.2\n88,1,-2.5\n88,3,-2.4\n88,5,-2\n88,7,-2.7\n88,10,-3.4\n88,14,-4.6\n88,21,-2.5\n88,28,-2.2\n89,0,0.6\n89,0.25,-1.2\n89,1,-1.7\n89,3,-1.6\n89,5,-2\n89,7,-1.8\n89,10,-2.6\n89,14,-3.9\n89,21,-1.9\n89,28,-1.6\n90,0,1.3\n90,0.25,-0.5\n90,1,-0.9\n90,3,-1.2\n90,5,-0.8\n90,7,-1.3\n90,10,-1.9\n90,14,-3.1\n90,21,-1.1\n90,28,-0.9\n91,0,-0.7\n91,0.25,0.2\n91,1,-0.3\n91,3,-0.4\n91,5,-0.8\n91,7,-0.6\n91,10,-1.2\n91,14,-2.4\n91,21,-0.5\n91,28,-0.3\n92,0,0.1\n92,0.25,0.9\n92,1,0.5\n92,3,0.3\n92,5,-0.1\n92,7,0\n92,10,-0.6\n92,14,-1.7\n92,21,0.2\n92,28,0.3\n93,0,2.5\n93,0.25,1.6\n93,1,1.3\n93,3,0.8\n93,5,0.9\n93,7,0.5\n93,10,0.2\n93,14,-0.8\n93,21,0.7\n93,28,1\n94,0,0.9\n94,0.25,2.3\n94,1,2.1\n94,3,1.5\n94,5,1.2\n94,7,1.3\n94,10,0.9\n94,14,0.4\n94,21,1.3\n94,28,1.5\n95,0,-1\n95,0.25,-2.9\n95,1,-3.1\n95,3,-3\n95,5,-3.4\n95,7,-3.7\n95,10,-4.6\n95,14,-5.4\n95,21,-3.2\n95,28,-2.9\n96,0,0.8\n96,0.25,2\n96,1,1.5\n96,3,0.2\n96,5,-0.6\n96,7,-1.4\n96,10,-1.9\n96,14,-2.7\n96,21,-1.2\n96,28,-1.6\n97,0,-1.2\n97,0.25,-0.2\n97,1,0.9\n97,3,0.8\n97,5,0.4\n97,7,-0.3\n97,10,-0.9\n97,14,-1.6\n97,21,-0.4\n97,28,-0.2\n98,0,2.3\n98,0.25,3.4\n98,1,2.6\n98,3,0.5\n98,5,1.2\n98,7,0.6\n98,10,-0.4\n98,14,-0.9\n98,21,0.4\n98,28,0.9\n99,0,-0.4\n99,0.25,0.5\n99,1,-0.6\n99,3,-1.6\n99,5,-2.2\n99,7,-2.6\n99,10,-2.9\n99,14,-3.6\n99,21,-2\n99,28,-1.4\n100,0,1.6\n100,0.25,1.1\n100,1,0.3\n100,3,-0.6\n100,5,-0.2\n100,7,0.4\n100,10,-0.8\n100,14,-1.2\n100,21,-0.9\n100,28,-1.2\n101,0,-2\n101,0.25,-1.2\n101,1,-1.9\n101,3,-2.2\n101,5,-1.5\n101,7,-2\n101,10,-2.6\n101,14,-3\n101,21,-1.5\n101,28,-2\n102,0,0.3\n102,0.25,2.8\n102,1,2.2\n102,3,1.2\n102,5,1.6\n102,7,0.9\n102,10,1\n102,14,0.3\n102,21,0.9\n102,28,0.6\n103,0,3.5\n103,0.25,1.6\n103,1,0.8\n103,3,-0.3\n103,5,-1.2\n103,7,-0.6\n103,10,-1.6\n103,14,-2.1\n103,21,-0.8\n103,28,-0.5\n104,0,-0.9\n104,0.25,0.1\n104,1,-0.3\n104,3,-1\n104,5,-0.5\n104,7,-1.5\n104,10,-2.3\n104,14,-2.7\n104,21,-1.7\n104,28,-1.1\n105,0,1.1\n105,0.25,4\n105,1,3.1\n105,3,1.7\n105,5,0.6\n105,7,1.1\n105,10,0.2\n105,14,-0.3\n105,21,0.5\n105,28,1.3\n106,0,-1.7\n106,0.25,-2.6\n106,1,-2\n106,3,-2.8\n106,5,-2.6\n106,7,-3.2\n106,10,-4.1\n106,14,-4.9\n106,21,-2.6\n106,28,-2.5\n107,0,0.6\n107,0.25,1.4\n107,1,0.6\n107,3,-0.4\n107,5,0.1\n107,7,-0.7\n107,10,-0.4\n107,14,-1.8\n107,21,-0.2\n107,28,0.2\n108,0,2.7\n108,0.25,3.6\n108,1,2\n108,3,0.9\n108,5,0.3\n108,7,0\n108,10,0.7\n108,14,0.8\n108,21,0.1\n108,28,-0.4\n109,0,-0.3\n109,0.25,-0.8\n109,1,-1.3\n109,3,-1.9\n109,5,-1.2\n109,7,-1.1\n109,10,-2\n109,14,-3.3\n109,21,-2.2\n109,28,-1.9\n110,0,1.4\n110,0.25,2.5\n110,1,1.9\n110,3,0\n110,5,0.8\n110,7,-0.2\n110,10,-1.3\n110,14,-0.6\n110,21,0.8\n110,28,0.2\n111,0,-2.4\n111,0.25,-1\n111,1,-0.5\n111,3,-1.3\n111,5,-1.8\n111,7,-2.4\n111,10,-2.2\n111,14,-3.9\n111,21,-2.4\n111,28,-2.8\n112,0,0\n112,0.25,0.6\n112,1,1.1\n112,3,1\n112,5,-0.1\n112,7,0.3\n112,10,-0.1\n112,14,-1\n112,21,-0.6\n112,28,0\n113,0,1.9\n113,0.25,0.7\n113,1,-0.7\n113,3,-0.8\n113,5,-1.6\n113,7,-1.2\n113,10,-1.4\n113,14,-2\n113,21,-1.1\n113,28,-0.7\n114,0,-1\n114,0.25,1.8\n114,1,2.8\n114,3,0.6\n114,5,0.9\n114,7,1.3\n114,10,0.4\n114,14,1\n114,21,0\n114,28,0.5\n115,0,0.7\n115,0.25,-0.4\n115,1,-1.1\n115,3,-2.4\n115,5,-2.7\n115,7,-2.2\n115,10,-3\n115,14,-4.2\n115,21,-3\n115,28,-2\n116,0,4\n116,0.25,2.9\n116,1,1.7\n116,3,1.5\n116,5,0.7\n116,7,1.6\n116,10,1.6\n116,14,0.9\n116,21,1.6\n116,28,1.1\n117,0,-0.6\n117,0.25,0.9\n117,1,0.3\n117,3,-0.1\n117,5,-0.9\n117,7,-0.9\n117,10,-1.7\n117,14,-1.3\n117,21,-0.3\n117,28,-0.8\n118,0,1\n118,0.25,1.9\n118,1,1.2\n118,3,0.4\n118,5,0.5\n118,7,-0.3\n118,10,0.6\n118,14,-0.4\n118,21,-0.1\n118,28,0.8\n119,0,-1.5\n119,0.25,-1.8\n119,1,-1.6\n119,3,-1.2\n119,5,-2\n119,7,-1.7\n119,10,-3\n119,14,-3.5\n119,21,-1.4\n119,28,-1.2\n120,0,2\n120,0.25,4.6\n120,1,3.8\n120,3,2\n120,5,1.3\n120,7,0.8\n120,10,0.5\n120,14,0\n120,21,1.1\n120,28,0.4\n121,0,0.4\n121,0.25,-0.1\n121,1,-0.9\n121,3,-1.4\n121,5,-0.9\n121,7,-1.9\n121,10,-1.4\n121,14,-2.5\n121,21,-1.6\n121,28,-2.2\n122,0,-0.2\n122,0.25,1.1\n122,1,0\n122,3,-0.6\n122,5,-1.4\n122,7,-0.4\n122,10,-1.1\n122,14,-2.2\n122,21,-0.7\n122,28,-1.3\n123,0,1.3\n123,0.25,3.2\n123,1,2.5\n123,3,1.1\n123,5,1.8\n123,7,1.9\n123,10,1.3\n123,14,0.5\n123,21,1.7\n123,28,1.7\n124,0,-1.3\n124,0.25,-0.6\n124,1,-1\n124,3,-0.9\n124,5,-1.7\n124,7,-2.3\n124,10,-3.4\n124,14,-4.4\n124,21,-2.1\n124,28,-2.6\n125,0,0.9\n125,0.25,0.4\n125,1,0.4\n125,3,0.7\n125,5,0\n125,7,-0.6\n125,10,-0.2\n125,14,-0.9\n125,21,0.3\n125,28,-0.7", "format": {"type": "csv", "parse": {"g": "number", "t": "number", "v": "number"}}},
              "mark": {"type": "line", "color": "#7F7F7F", "strokeWidth": 1.3},
              "encoding": {
                "x": {"field": "t", "type": "quantitative", "title": "Time (days)",
                  "scale": {"domain": [-1.4, 29.4], "nice": false, "zero": false},
                  "axis": {"values": [0, 5, 10, 15, 20, 25],
                    "labelExpr": "datum.value % 10 === 0 ? datum.label : ''",
                    "gridWidth": {"condition": {"test": "datum.value % 10 === 0", "value": 1.5}, "value": 0.75},
                    "tickOpacity": {"condition": {"test": "datum.value % 10 === 0", "value": 1}, "value": 0}}},
                "y": {"field": "v", "type": "quantitative", "title": "Log2 Ratio",
                  "scale": {"domain": [-9.44, 13.6], "nice": false, "zero": false},
                  "axis": {"values": [-7.5, -5, -2.5, 0, 2.5, 5, 7.5, 10, 12.5],
                    "labelExpr": "datum.value % 5 === 0 ? datum.label : ''",
                    "gridWidth": {"condition": {"test": "datum.value % 5 === 0", "value": 1.5}, "value": 0.75},
                    "tickOpacity": {"condition": {"test": "datum.value % 5 === 0", "value": 1}, "value": 0}}},
                "detail": {"field": "g", "type": "nominal"}
              }
            },
            {
              "data": {"values": "t,v\n0,0\n0.125,0.1\n0.25,0.15\n0.5,0.15\n1,-0.1\n3,-0.35\n5,-0.43\n7,-0.6\n10,-0.75\n14,-0.73\n21,-0.37\n28,-0.37", "format": {"type": "csv", "parse": {"t": "number", "v": "number"}}},
              "mark": {"type": "line", "color": "#FF0000", "strokeWidth": 2},
              "encoding": {
                "x": {"field": "t", "type": "quantitative", "title": "Time (days)"},
                "y": {"field": "v", "type": "quantitative", "title": "Log2 Ratio"}
              }
            }
          ]
        },
        {
          "width": 352,
          "height": 535,
          "title": {"text": "Cluster 3", "offset": 10},
          "layer": [
            {
              "data": {"values": "g,t,v\n1,0,0.5\n1,0.25,1.6\n1,1,2.7\n1,3,1.95\n1,5,1.8\n1,7,1.7\n1,10,2\n1,14,1.6\n1,21,1.4\n1,28,1.2\n2,0,0.2\n2,0.25,-0.3\n2,1,0.9\n2,3,0.4\n2,5,0.1\n2,7,-0.2\n2,10,-0.1\n2,14,2.5\n2,21,4.7\n2,28,5.4\n3,0,0\n3,0.25,0.5\n3,1,1.2\n3,3,0.6\n3,5,0.9\n3,7,0.4\n3,10,0.5\n3,14,1.5\n3,21,3.7\n3,28,4.2\n4,0,0.1\n4,0.25,-0.2\n4,1,0.6\n4,3,-0.3\n4,5,-0.6\n4,7,-1\n4,10,-1.4\n4,14,0.6\n4,21,3.1\n4,28,3.9\n5,0,0\n5,0.25,0.3\n5,1,1\n5,3,0.2\n5,5,0.6\n5,7,1.2\n5,10,0.9\n5,14,1.7\n5,21,3\n5,28,3.37\n6,0,0.2\n6,0.25,0.6\n6,1,1.4\n6,3,1\n6,5,1.3\n6,7,0.8\n6,10,0.4\n6,14,1\n6,21,2.5\n6,28,3\n7,0,0\n7,0.25,-0.8\n7,1,0.5\n7,3,-0.6\n7,5,-0.4\n7,7,-0.9\n7,10,-1.6\n7,14,0.5\n7,21,2.6\n7,28,2.9\n8,0,0.1\n8,0.25,0.2\n8,1,0.9\n8,3,0.5\n8,5,0.2\n8,7,-0.3\n8,10,-0.8\n8,14,0.8\n8,21,2.4\n8,28,2.8\n9,0,-0.1\n9,0.25,-1.2\n9,1,0.3\n9,3,-1\n9,5,-0.8\n9,7,-1.5\n9,10,-2.3\n9,14,-0.5\n9,21,2.2\n9,28,2.7\n10,0,0.3\n10,0.25,1.2\n10,1,1.8\n10,3,1.3\n10,5,1.5\n10,7,0.9\n10,10,1.4\n10,14,1.2\n10,21,2\n10,28,2.6\n11,0,0\n11,0.25,-0.4\n11,1,0.2\n11,3,-0.5\n11,5,-1.1\n11,7,-1.8\n11,10,-2.9\n11,14,-0.9\n11,21,1.9\n11,28,2.5\n12,0,0.2\n12,0.25,0.1\n12,1,0.6\n12,3,0\n12,5,-0.2\n12,7,-0.6\n12,10,-1.2\n12,14,0.2\n12,21,2.3\n12,28,2.4\n13,0,0\n13,0.25,-2\n13,1,-0.4\n13,3,-1.4\n13,5,-1.6\n13,7,-2.1\n13,10,-2.6\n13,14,-1\n13,21,1.6\n13,28,2.3\n14,0,0.1\n14,0.25,0.7\n14,1,1.5\n14,3,0.9\n14,5,0.5\n14,7,0.2\n14,10,-0.4\n14,14,1\n14,21,2.1\n14,28,2.2\n15,0,-0.2\n15,0.25,-0.6\n15,1,0.1\n15,3,-0.8\n15,5,-0.4\n15,7,-1.2\n15,10,-2\n15,14,-0.3\n15,21,1.4\n15,28,2\n16,0,0\n16,0.25,-3.1\n16,1,-0.8\n16,3,-1\n16,5,-1.3\n16,7,-1.6\n16,10,-1.9\n16,14,-0.6\n16,21,1\n16,28,1.6\n17,0,0.4\n17,0.25,0.9\n17,1,1.1\n17,3,0.6\n17,5,1\n17,7,0.6\n17,10,0\n17,14,0.2\n17,21,1.3\n17,28,1.2\n18,0,0\n18,0.25,0.2\n18,1,0.4\n18,3,-0.4\n18,5,-0.6\n18,7,-0.9\n18,10,-1.4\n18,14,-0.4\n18,21,0.5\n18,28,1.1\n19,0,0.1\n19,0.25,-0.2\n19,1,0.3\n19,3,-0.2\n19,5,-0.5\n19,7,-0.6\n19,10,-1\n19,14,-0.2\n19,21,0.6\n19,28,1\n20,0,-0.1\n20,0.25,-0.9\n20,1,-0.2\n20,3,-0.7\n20,5,-1\n20,7,-1.3\n20,10,-1.7\n20,14,-0.8\n20,21,0.3\n20,28,0.9\n21,0,0\n21,0.25,0.4\n21,1,0.7\n21,3,0.1\n21,5,-0.1\n21,7,-0.3\n21,10,-0.7\n21,14,0\n21,21,0.8\n21,28,0.8\n22,0,0.2\n22,0.25,-0.5\n22,1,0\n22,3,-1.1\n22,5,-0.8\n22,7,-0.7\n22,10,-1.2\n22,14,-0.6\n22,21,0.2\n22,28,0.7\n23,0,0\n23,0.25,-1.5\n23,1,-0.5\n23,3,-2.1\n23,5,-2.2\n23,7,-1.2\n23,10,-1.8\n23,14,-1.1\n23,21,0\n23,28,0.6\n24,0,0.1\n24,0.25,0.3\n24,1,0.5\n24,3,-0.3\n24,5,-0.3\n24,7,-1\n24,10,-4.9\n24,14,-1.6\n24,21,-0.2\n24,28,0.5\n25,0,0\n25,0.25,-0.2\n25,1,-0.6\n25,3,-1.8\n25,5,-2.9\n25,7,-2.6\n25,10,-3.3\n25,14,-3.3\n25,21,-1.4\n25,28,-0.5\n26,0,0\n26,0.25,-1\n26,1,-0.8\n26,3,-1.5\n26,5,-1.8\n26,7,-3.7\n26,10,-3\n26,14,-2\n26,21,-0.6\n26,28,-0.3\n27,0,0.2\n27,0.25,0\n27,1,0.4\n27,3,-0.9\n27,5,-1.4\n27,7,-1.6\n27,10,-2.6\n27,14,-1.3\n27,21,-0.3\n27,28,0.3\n28,0,0\n28,0.25,0.6\n28,1,0.3\n28,3,-0.5\n28,5,-0.2\n28,7,-0.8\n28,10,-1.6\n28,14,-0.9\n28,21,-0.1\n28,28,0.1\n29,0,0.1\n29,0.25,-0.3\n29,1,0.9\n29,3,0.4\n29,5,0\n29,7,-0.5\n29,10,-1.1\n29,14,-0.5\n29,21,0.1\n29,28,0\n30,0,0\n30,0.25,0.8\n30,1,1.3\n30,3,0.7\n30,5,1.4\n30,7,0.2\n30,10,-0.2\n30,14,-0.1\n30,21,0\n30,28,-0.1\n31,0,0.3\n31,0.25,1.3\n31,1,2.2\n31,3,1.1\n31,5,0.8\n31,7,0.5\n31,10,1.4\n31,14,1.7\n31,21,1.2\n31,28,1\n32,0,0\n32,0.25,-0.1\n32,1,0.2\n32,3,-0.8\n32,5,-1.2\n32,7,-1.1\n32,10,-1.9\n32,14,-1\n32,21,0.4\n32,28,0.4\n33,0,0.1\n33,0.25,0.5\n33,1,0.8\n33,3,0.3\n33,5,0.4\n33,7,-0.3\n33,10,-0.9\n33,14,0.4\n33,21,1.6\n33,28,2\n34,0,0\n34,0.25,-0.7\n34,1,-0.3\n34,3,-1.2\n34,5,-1.5\n34,7,-2.3\n34,10,-2\n34,14,-0.7\n34,21,0.7\n34,28,1.4\n35,0,0.2\n35,0.25,1\n35,1,1.6\n35,3,0.8\n35,5,0.1\n35,7,0\n35,10,-0.6\n35,14,0.5\n35,21,1.8\n35,28,2.6\n36,0,0\n36,0.25,0.2\n36,1,0\n36,3,-0.7\n36,5,-0.9\n36,7,-0.4\n36,10,-1.5\n36,14,-0.4\n36,21,1\n36,28,1.2\n37,0,0\n37,0.25,-0.4\n37,1,0.5\n37,3,0\n37,5,-0.3\n37,7,-0.7\n37,10,-0.5\n37,14,0.4\n37,21,0.9\n37,28,0.7\n38,0,0.1\n38,0.25,0\n38,1,1\n38,3,0.5\n38,5,0.6\n38,7,0.1\n38,10,-1.3\n38,14,-0.2\n38,21,0.3\n38,28,0.5\n39,0,0\n39,0.25,-1.1\n39,1,0.1\n39,3,-0.4\n39,5,-1.9\n39,7,-0.5\n39,10,-2.2\n39,14,-0.8\n39,21,0.5\n39,28,0.9", "format": {"type": "csv", "parse": {"g": "number", "t": "number", "v": "number"}}},
              "mark": {"type": "line", "color": "#7F7F7F", "strokeWidth": 1.3},
              "encoding": {
                "x": {"field": "t", "type": "quantitative", "title": "Time (days)",
                  "scale": {"domain": [-1.4, 29.4], "nice": false, "zero": false},
                  "axis": {"values": [0, 5, 10, 15, 20, 25],
                    "labelExpr": "datum.value % 10 === 0 ? datum.label : ''",
                    "gridWidth": {"condition": {"test": "datum.value % 10 === 0", "value": 1.5}, "value": 0.75},
                    "tickOpacity": {"condition": {"test": "datum.value % 10 === 0", "value": 1}, "value": 0}}},
                "y": {"field": "v", "type": "quantitative", "title": "Log2 Ratio",
                  "scale": {"domain": [-5.46, 5.99], "nice": false, "zero": false},
                  "axis": {"values": [-4.5, -3, -1.5, 0, 1.5, 3, 4.5],
                    "labelExpr": "datum.value % 3 === 0 ? datum.label : ''",
                    "gridWidth": {"condition": {"test": "datum.value % 3 === 0", "value": 1.5}, "value": 0.75},
                    "tickOpacity": {"condition": {"test": "datum.value % 3 === 0", "value": 1}, "value": 0}}},
                "detail": {"field": "g", "type": "nominal"}
              }
            },
            {
              "data": {"values": "t,v\n0,0\n0.125,-0.46\n0.25,-0.2\n0.5,0.1\n1,0.18\n3,-0.24\n5,-0.2\n7,-0.51\n10,-0.87\n14,-0.24\n21,0.57\n28,0.96", "format": {"type": "csv", "parse": {"t": "number", "v": "number"}}},
              "mark": {"type": "line", "color": "#FF0000", "strokeWidth": 2},
              "encoding": {
                "x": {"field": "t", "type": "quantitative", "title": "Time (days)"},
                "y": {"field": "v", "type": "quantitative", "title": "Log2 Ratio"}
              }
            }
          ]
        }
      ]
    }
  ],
  "config": {
    "font": "Liberation Sans",
    "view": {"stroke": null, "fill": "#EBEBEB"},
    "axis": {
      "domain": false,
      "grid": true,
      "gridColor": "#FFFFFF",
      "tickColor": "#333333",
      "tickSize": 4.5,
      "tickWidth": 1.1,
      "labelColor": "#4D4D4D",
      "labelFont": "Liberation Sans",
      "labelFontSize": 15,
      "titleFont": "Liberation Sans",
      "titleFontSize": 19,
      "titleFontWeight": "normal",
      "titleColor": "#000000"
    },
    "axisX": {"labelPadding": 2, "titlePadding": 7},
    "axisY": {"labelPadding": 4, "titlePadding": 8},
    "title": {"font": "Liberation Sans", "fontSize": 22, "fontWeight": "normal", "anchor": "start", "frame": "group", "color": "#000000"}
  }
}
